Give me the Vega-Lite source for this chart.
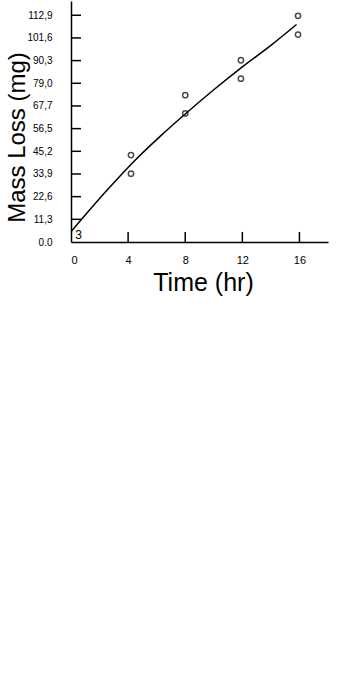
{
  "$schema": "https://vega.github.io/schema/vega-lite/v6.json",
  "autosize": {"type": "none"},
  "width": 257,
  "height": 241,
  "padding": {"left": 71, "top": 1, "right": 26, "bottom": 449},
  "background": "white",
  "config": {
    "view": {"stroke": null},
    "axis": {"domainColor": "black", "domainWidth": 1.5, "ticks": false, "grid": false, "labelColor": "black", "titleColor": "black", "labelOverlap": false}
  },
  "datasets": {
    "obs": [
      {"time": 4.2, "loss": 43.3},
      {"time": 4.2, "loss": 34.0},
      {"time": 8.0, "loss": 73.1},
      {"time": 8.0, "loss": 64.0},
      {"time": 11.9, "loss": 90.5},
      {"time": 11.9, "loss": 81.3},
      {"time": 15.9, "loss": 112.6},
      {"time": 15.9, "loss": 103.3}
    ],
    "fit": [
      {"time": 0, "loss": 5.1},
      {"time": 2.5, "loss": 25.6},
      {"time": 4.25, "loss": 39.0},
      {"time": 6.24, "loss": 52.6},
      {"time": 8.04, "loss": 64.0},
      {"time": 10, "loss": 75.8},
      {"time": 12, "loss": 87.2},
      {"time": 14, "loss": 97.9},
      {"time": 15.8, "loss": 108.3}
    ],
    "xticks": [
      {"t": 4, "y0": 0, "y1": 5},
      {"t": 8, "y0": 0, "y1": 5},
      {"t": 12, "y0": 0, "y1": 5},
      {"t": 16, "y0": 0, "y1": 5}
    ],
    "yticks": [
      {"v": 11.29, "x0": 0, "x1": 0.7},
      {"v": 22.58, "x0": 0, "x1": 0.7},
      {"v": 33.87, "x0": 0, "x1": 0.7},
      {"v": 45.16, "x0": 0, "x1": 0.7},
      {"v": 56.45, "x0": 0, "x1": 0.7},
      {"v": 67.74, "x0": 0, "x1": 0.7},
      {"v": 79.03, "x0": 0, "x1": 0.7},
      {"v": 90.32, "x0": 0, "x1": 0.7},
      {"v": 101.61, "x0": 0, "x1": 0.7},
      {"v": 112.9, "x0": 0, "x1": 0.7}
    ],
    "note": [{"time": 0.53, "loss": 3.5, "label": "3"}]
  },
  "layer": [
    {
      "data": {"name": "fit"},
      "mark": {"type": "line", "color": "black", "strokeWidth": 1.5, "interpolate": "monotone"},
      "encoding": {
        "x": {"field": "time", "type": "quantitative", "scale": {"domain": [0, 18], "nice": false},
          "axis": {"values": [0, 4, 8, 12, 16], "tickCount": 20, "labelOverlap": false, "labelFont": "Liberation Sans", "labelFontSize": 11, "labelPadding": 12, "labelBaseline": "top",
            "title": "Time (hr)", "titleFont": "Liberation Sans", "titleFontSize": 25, "titleFontWeight": "normal", "titleX": 132, "titleY": 48, "titleBaseline": "alphabetic", "titleAnchor": null, "titleAlign": "center"}},
        "y": {"field": "loss", "type": "quantitative", "scale": {"domain": [0, 120], "nice": false},
          "axis": {"values": [0, 11.29, 22.58, 33.87, 45.16, 56.45, 67.74, 79.03, 90.32, 101.61, 112.9],
            "tickCount": 20, "labelOverlap": false,
            "labelExpr": "datum.value == 0 ? '0.0' : replace(format(datum.value, '.1f'), '.', ',')",
            "labelFont": "Liberation Sans", "labelFontSize": 10, "labelPadding": 19,
            "title": "Mass Loss (mg)", "titleFont": "Liberation Sans", "titleFontSize": 24, "titleFontWeight": "normal", "titleAngle": -90, "titleX": -47, "titleY": 136, "titleBaseline": "alphabetic", "titleAlign": "center", "titleAnchor": null}}
      }
    },
    {
      "data": {"name": "xticks"},
      "mark": {"type": "rule", "color": "black", "strokeWidth": 1.5},
      "encoding": {
        "x": {"field": "t", "type": "quantitative"},
        "y": {"field": "y0", "type": "quantitative"},
        "y2": {"field": "y1"}
      }
    },
    {
      "data": {"name": "yticks"},
      "mark": {"type": "rule", "color": "black", "strokeWidth": 1.5},
      "encoding": {
        "y": {"field": "v", "type": "quantitative"},
        "x": {"field": "x0", "type": "quantitative"},
        "x2": {"field": "x1"}
      }
    },
    {
      "data": {"name": "obs"},
      "mark": {"type": "point", "shape": "circle", "filled": false, "color": "black", "size": 28, "strokeWidth": 1.5},
      "encoding": {
        "x": {"field": "time", "type": "quantitative"},
        "y": {"field": "loss", "type": "quantitative"}
      }
    },
    {
      "data": {"name": "note"},
      "mark": {"type": "text", "font": "Liberation Sans", "fontSize": 12, "color": "black", "align": "center", "baseline": "middle"},
      "encoding": {
        "x": {"field": "time", "type": "quantitative"},
        "y": {"field": "loss", "type": "quantitative"},
        "text": {"field": "label"}
      }
    }
  ]
}
